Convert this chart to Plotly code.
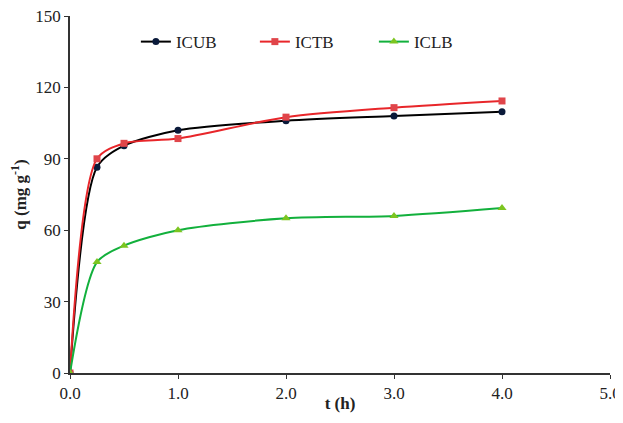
import plotly.graph_objects as go

t = [0, 0.25, 0.5, 1.0, 2.0, 3.0, 4.0]
icub = [0, 86.5, 95.5, 102, 106, 108, 109.8]
ictb = [0, 90, 96.5, 98.5, 107.5, 111.5, 114.3]
iclb = [0, 46.6, 53.5, 60, 65, 66, 69.3]

x_ticks = [0, 1, 2, 3, 4, 5]
x_labels = ["0.0", "1.0", "2.0", "3.0", "4.0", "5.0"]
y_ticks = [0, 30, 60, 90, 120, 150]

series = [
    ("ICUB", icub, "#000000", "#0a1a3a", "circle", 7),
    ("ICTB", ictb, "#e8262a", "#e0454a", "square", 7),
    ("ICLB", iclb, "#12b03c", "#7cc520", "triangle-up", 8),
]

fig = go.Figure()
for name, y, lc, mc, sym, ms in series:
    fig.add_trace(go.Scatter(
        x=t, y=y, name=name, mode="lines+markers",
        line=dict(color=lc, width=2, shape="spline", smoothing=0.8),
        marker=dict(symbol=sym, size=ms, color=mc),
    ))

FAM = "Liberation Serif"
font = dict(family=FAM, size=17, color="#222")
# page body has an 8px default margin, so the figure is kept smaller than the window
fig.update_layout(
    width=615, height=405,
    margin=dict(l=62, r=13, t=8, b=40),
    paper_bgcolor="white", plot_bgcolor="white",
    font=font,
    showlegend=True,
    legend=dict(orientation="h", x=0.122, y=0.927, xanchor="left", yanchor="middle",
                entrywidth=74, entrywidthmode="pixels",
                font=dict(family=FAM, size=17, color="#222"),
                bgcolor="rgba(0,0,0,0)"),
    xaxis=dict(range=[0, 5], tickvals=x_ticks, ticktext=x_labels, automargin=False,
               ticklabeloverflow="allow",
               showgrid=False, zeroline=False, showline=True, linecolor="#333", linewidth=1.5,
               ticks="outside", ticklen=4, tickcolor="#333",
               title=dict(text="<b>t (h)</b>", standoff=2, font=dict(family=FAM, size=17))),
    yaxis=dict(range=[0, 150], tickvals=y_ticks, automargin=False,
               ticklabeloverflow="allow",
               showgrid=False, zeroline=False, showline=True, linecolor="#333", linewidth=1.5,
               ticks="outside", ticklen=4, tickcolor="#333",
               title=dict(text="<b>q (mg g<sup>-1</sup>)</b>", standoff=6, font=dict(family=FAM, size=17))),
)
fig.write_html("out.html")
